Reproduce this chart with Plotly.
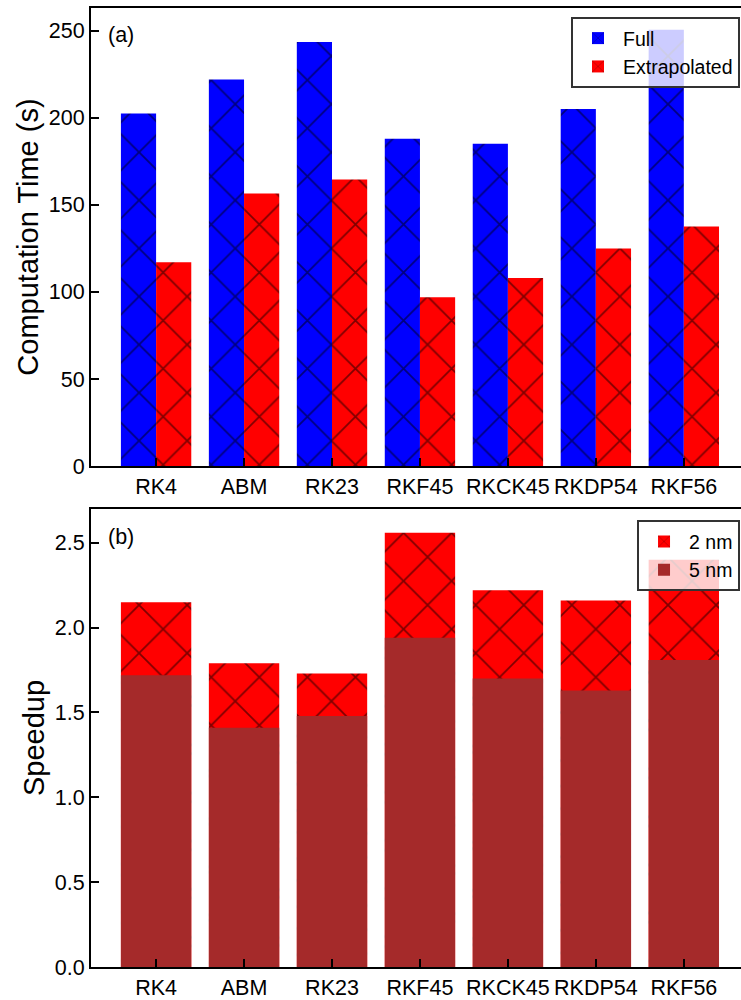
import plotly.graph_objects as go
from plotly.subplots import make_subplots

methods = ["RK4", "ABM", "RK23", "RKF45", "RKCK45", "RKDP54", "RKF56"]
time_full = [202.5, 222, 243.5, 188, 185, 205, 250.5]
time_extrap = [117, 156.5, 164.5, 97, 108, 125, 137.5]
speedup_2nm = [2.15, 1.79, 1.73, 2.56, 2.22, 2.16, 2.40]
speedup_5nm = [1.72, 1.41, 1.48, 1.94, 1.70, 1.63, 1.81]

FONT = "Liberation Sans"
fig = make_subplots(rows=2, cols=1, vertical_spacing=0.0446)

pat = dict(shape="x", fgcolor="black", size=34, solidity=0.1)

fig.add_trace(go.Bar(x=methods, y=time_full, name="Full", marker=dict(color="#0000FF", pattern=pat, line_width=0),
                     width=0.4, offset=-0.4, legend="legend"), row=1, col=1)
fig.add_trace(go.Bar(x=methods, y=time_extrap, name="Extrapolated", marker=dict(color="#FF0000", pattern=pat, line_width=0),
                     width=0.4, offset=0.0, legend="legend"), row=1, col=1)
fig.add_trace(go.Bar(x=methods, y=speedup_2nm, name="2 nm", marker=dict(color="#FF0000", pattern=pat, line_width=0),
                     width=0.8, offset=-0.4, legend="legend2"), row=2, col=1)
fig.add_trace(go.Bar(x=methods, y=speedup_5nm, name="5 nm", marker=dict(color="#A52A2A", line_width=0),
                     width=0.8, offset=-0.4, legend="legend2"), row=2, col=1)

TICK = 21.5
axis_common = dict(showline=True, linewidth=2, linecolor="black", ticks="inside", ticklen=8, tickwidth=2,
                   tickcolor="black", tickfont=dict(family=FONT, size=TICK, color="black"), showgrid=False, zeroline=False)

for r in (1, 2):
    fig.update_xaxes(**axis_common, mirror=True, range=[-0.74, 6.65], row=r, col=1)

fig.update_yaxes(**axis_common, range=[0, 263], tickvals=[0, 50, 100, 150, 200, 250],
                 title=dict(text="Computation Time (s)", font=dict(family=FONT, size=29, color="black"), standoff=2),
                 row=1, col=1)
fig.update_yaxes(**axis_common, range=[0, 2.7], tickvals=[0, 0.5, 1, 1.5, 2, 2.5], tickformat=".1f",
                 title=dict(text="Speedup", font=dict(family=FONT, size=29, color="black"), standoff=2),
                 row=2, col=1)

LEG = 19.5
fig.update_layout(
    width=741, height=1000,
    margin=dict(l=91, r=0, t=8, b=26),
    plot_bgcolor="white", paper_bgcolor="white",
    barmode="overlay",
    font=dict(family=FONT, color="black"),
    legend=dict(x=0.9985, y=0.9907, xanchor="right", yanchor="top", bgcolor="rgba(255,255,255,0.8)",
                bordercolor="#333333", borderwidth=2, font=dict(family=FONT, size=LEG, color="black"),
                tracegroupgap=0, itemwidth=40),
    legend2=dict(x=0.9985, y=0.4658, xanchor="right", yanchor="top", bgcolor="rgba(255,255,255,0.8)",
                 bordercolor="#333333", borderwidth=2, font=dict(family=FONT, size=LEG, color="black"),
                 tracegroupgap=0, itemwidth=40),
    annotations=[
        dict(text="(a)", x=0.023, y=0.972, xref="paper", yref="paper", xanchor="left", yanchor="middle",
             showarrow=False, font=dict(family=FONT, size=21.5, color="black")),
        dict(text="(b)", x=0.023, y=0.448, xref="paper", yref="paper", xanchor="left", yanchor="middle",
             showarrow=False, font=dict(family=FONT, size=21.5, color="black")),
    ],
)

fig.write_html("out.html")
